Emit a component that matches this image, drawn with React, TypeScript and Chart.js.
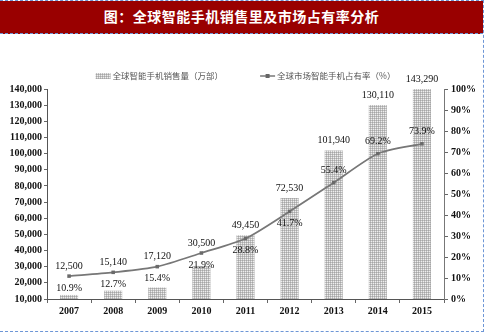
import React, { useEffect, useRef } from 'react';
import { Chart, registerables } from 'chart.js';

Chart.register(...registerables);

const titleText = '图：全球智能手机销售里及市场占有率分析';
const salesLabel = '全球智能手机销售量（万部）';
const shareLabel = '全球市场智能手机占有率（%）';
const years = ['2007', '2008', '2009', '2010', '2011', '2012', '2013', '2014', '2015'];
const shipments = [12500, 15140, 17120, 30500, 49450, 72530, 101940, 130110, 143290];
const shares = [10.9, 12.7, 15.4, 21.9, 28.8, 41.7, 55.4, 69.2, 73.9];

const fmtNum = (v: number) => v.toLocaleString('en-US');
const serif = '"Liberation Serif", "DejaVu Serif", serif';
const cjk = '"Noto Sans CJK SC", "Noto Sans", sans-serif';

function makePattern(ctx: CanvasRenderingContext2D): CanvasPattern | string {
  const c = document.createElement('canvas');
  c.width = 2;
  c.height = 2;
  const p = c.getContext('2d');
  if (!p) return '#c8c8c8';
  p.fillStyle = '#eeeeee';
  p.fillRect(0, 0, 2, 2);
  p.fillStyle = '#c0c0c0';
  p.fillRect(0, 0, 2, 1);
  p.fillRect(0, 0, 1, 2);
  p.fillStyle = '#a6a6a6';
  p.fillRect(0, 0, 1, 1);
  return ctx.createPattern(c, 'repeat') || '#c8c8c8';
}

export default function App() {
  const ref = useRef<HTMLCanvasElement | null>(null);

  useEffect(() => {
    document.body.style.margin = '0';
    const canvas = ref.current;
    if (!canvas) return;
    const ctx0 = canvas.getContext('2d');
    if (!ctx0) return;
    const pattern = makePattern(ctx0);

    const labelPlugin = {
      id: 'valueLabels',
      afterDatasetsDraw(chart: any) {
        const ctx = chart.ctx as CanvasRenderingContext2D;
        const barMeta = chart.getDatasetMeta(0);
        const lineMeta = chart.getDatasetMeta(1);
        const top = chart.chartArea.top;
        ctx.save();
        ctx.font = `10px ${serif}`;
        ctx.fillStyle = '#111';
        ctx.textAlign = 'center';
        ctx.textBaseline = 'middle';
        barMeta.data.forEach((bar: any, i: number) => {
          const pt = lineMeta.data[i];
          const barTop = Math.max(bar.y, top);
          const y = Math.min(barTop, pt.y) - 10;
          ctx.fillText(fmtNum(shipments[i]), bar.x, y);
          const py = shares[i] < 50 ? pt.y + 12 : pt.y - 12;
          ctx.fillText(shares[i].toFixed(1) + '%', pt.x, py);
        });
        ctx.restore();
      },
    };

    const legendPlugin = {
      id: 'customLegend',
      afterDraw(chart: any) {
        const ctx = chart.ctx as CanvasRenderingContext2D;
        const area = chart.chartArea;
        ctx.save();
        ctx.font = `8.5px ${cjk}`;
        const w1 = ctx.measureText(salesLabel).width;
        const w2 = ctx.measureText(shareLabel).width;
        const sw = 15;
        const gap = 2;
        const between = 37;
        const total = sw + gap + w1 + between + sw + gap + w2;
        let x = (area.left + area.right) / 2 - total / 2;
        const y = 42;
        ctx.fillStyle = pattern as any;
        ctx.fillRect(x, y - 3, sw, 6);
        x += sw + gap;
        ctx.fillStyle = '#555';
        ctx.textBaseline = 'middle';
        ctx.textAlign = 'left';
        ctx.fillText(salesLabel, x, y);
        x += w1 + between;
        ctx.strokeStyle = '#777';
        ctx.lineWidth = 1.5;
        ctx.beginPath();
        ctx.moveTo(x, y);
        ctx.lineTo(x + sw, y);
        ctx.stroke();
        ctx.fillStyle = '#666';
        ctx.fillRect(x + sw / 2 - 2, y - 2, 4, 4);
        x += sw + gap;
        ctx.fillStyle = '#555';
        ctx.fillText(shareLabel, x, y);
        ctx.restore();
      },
    };

    const chart = new Chart(canvas, {
      type: 'bar',
      data: {
        labels: years,
        datasets: [
          {
            type: 'bar',
            label: salesLabel,
            data: shipments,
            backgroundColor: pattern as any,
            borderWidth: 0,
            yAxisID: 'y',
            categoryPercentage: 1,
            barPercentage: 0.41,
            order: 2,
          },
          {
            type: 'line',
            label: shareLabel,
            data: shares,
            borderColor: '#777',
            backgroundColor: '#6a6a6a',
            borderWidth: 1.75,
            pointStyle: 'rect',
            pointRadius: 2.5,
            pointBorderWidth: 0,
            tension: 0.25,
            yAxisID: 'y1',
            order: 1,
          } as any,
        ],
      },
      options: {
        responsive: false,
        animation: false,
        layout: { padding: { top: 55, left: 0, right: 0, bottom: 0 } },
        plugins: {
          legend: { display: false },
          tooltip: { enabled: false },
          title: { display: false },
        },
        scales: {
          x: {
            offset: true,
            grid: { display: true, drawOnChartArea: false, tickLength: 4, color: '#666' },
            border: { display: true, color: '#555', width: 1 },
            ticks: { font: { family: serif, size: 10, weight: 'bold' }, color: '#111', padding: 2 },
            afterFit: (s: any) => { s.height = 32; },
          },
          y: {
            position: 'left',
            min: 10000,
            max: 140000,
            grid: { display: true, drawOnChartArea: false, tickLength: 3, color: '#666' },
            border: { display: true, color: '#555', width: 1 },
            ticks: {
              stepSize: 10000,
              font: { family: serif, size: 10, weight: 'bold' },
              color: '#111',
              padding: 2,
              callback: (v: any) => fmtNum(Number(v)),
            },
            afterFit: (s: any) => { s.width = 47; },
          },
          y1: {
            position: 'right',
            min: 0,
            max: 100,
            grid: { display: true, drawOnChartArea: false, tickLength: 4, color: '#666' },
            border: { display: true, color: '#777', width: 1 },
            ticks: {
              stepSize: 10,
              font: { family: serif, size: 10, weight: 'bold' },
              color: '#111',
              padding: 3,
              callback: (v: any) => v + '%',
            },
            afterFit: (s: any) => { s.width = 38; },
          },
        },
      } as any,
      plugins: [labelPlugin, legendPlugin],
    });
    return () => chart.destroy();
  }, []);

  const dash = '1px dashed #6d96d6';
  return (
    <div
      style={{
        position: 'relative',
        width: 484,
        height: 332,
        boxSizing: 'border-box',
        borderTop: dash,
        borderRight: dash,
        borderBottom: dash,
        background: '#fff',
        overflow: 'hidden',
      }}
    >
      <div
        style={{
          position: 'absolute',
          left: 0,
          top: -1,
          width: 483,
          height: 33,
          background: '#990000',
          borderBottom: dash,
          color: '#fff',
          fontFamily: cjk,
          fontWeight: 'bold',
          fontSize: 14,
          lineHeight: '33px',
          textAlign: 'center',
          letterSpacing: 0.5,
        }}
      >
        {titleText}
      </div>
      <canvas
        ref={ref}
        width={482}
        height={297}
        style={{ position: 'absolute', left: 0, top: 33, width: 482, height: 297, display: 'block' }}
      />
    </div>
  );
}
